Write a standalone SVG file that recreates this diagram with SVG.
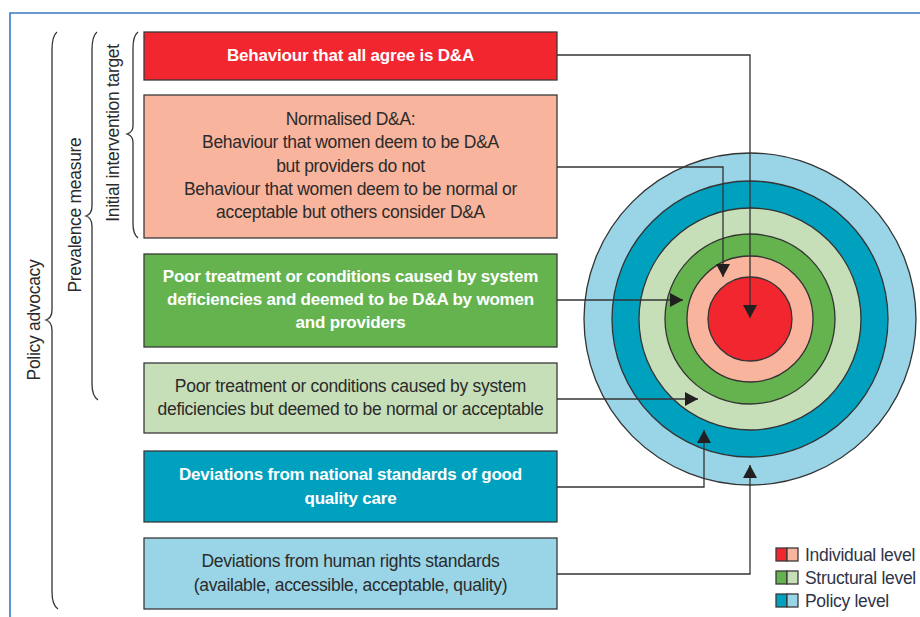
<svg xmlns="http://www.w3.org/2000/svg" width="920" height="617" viewBox="0 0 920 617">
  <style>
    .box { stroke: #3a3a3a; stroke-width: 1.3; }
    .t { font-family: "Liberation Sans", Arial, sans-serif; font-size: 17.5px; text-anchor: middle; fill: #2b2b2b; letter-spacing: -0.3px; }
    .tb { font-family: "Liberation Sans", Arial, sans-serif; font-size: 17px; font-weight: bold; text-anchor: middle; fill: #ffffff; letter-spacing: -0.2px; }
    .side { font-family: "Liberation Sans", Arial, sans-serif; font-size: 17.5px; text-anchor: middle; fill: #2b2b2b; letter-spacing: -0.3px; }
    .brace { fill: none; stroke: #333333; stroke-width: 1.3; }
    .conn { fill: none; stroke: #333333; stroke-width: 1.3; }
    .ring { stroke: #333333; stroke-width: 1.3; }
    .leg { font-family: "Liberation Sans", Arial, sans-serif; font-size: 17.5px; fill: #2e3447; letter-spacing: -0.3px; }
  </style>
  <defs>
    <marker id="arrow" markerUnits="userSpaceOnUse" markerWidth="14" markerHeight="14" refX="13" refY="7" orient="auto">
      <path d="M0,0 L13,7 L0,14 z" fill="#231f20"/>
    </marker>
  </defs>

  <rect width="920" height="617" fill="#ffffff"/>
  <!-- frame -->
  <path d="M10,617 V13 H920" fill="none" stroke="#3a78c0" stroke-width="1.6"/>

  <!-- side braces and labels -->
  <g id="policy-advocacy">
    <path class="brace" d="M57,32 Q52,36 52,50 V310 Q52,318 46,320 Q52,322 52,330 V592 Q52,605 58,609"/>
    <text class="side" transform="translate(40,320) rotate(-90)">Policy advocacy</text>
  </g>
  <g id="prevalence-measure">
    <path class="brace" d="M97,32 Q92,36 92,50 V206 Q92,214 86,216 Q92,218 92,226 V384 Q92,396 98,400"/>
    <text class="side" transform="translate(81,215) rotate(-90)">Prevalence measure</text>
  </g>
  <g id="initial-intervention-target">
    <path class="brace" d="M138,32 Q133,36 133,48 V126 Q133,132 127,134 Q133,136 133,142 V224 Q133,234 138,238"/>
    <text class="side" transform="translate(119,133) rotate(-90)">Initial intervention target</text>
  </g>

  <!-- concentric levels -->
  <g id="target-rings">
    <circle class="ring" cx="750" cy="319" r="166" fill="#99d5e6"/>
    <circle class="ring" cx="750" cy="319" r="138" fill="#00a0bf"/>
    <circle class="ring" cx="750" cy="319" r="111" fill="#c7dfb8"/>
    <circle class="ring" cx="750" cy="319" r="85" fill="#65b34f"/>
    <circle class="ring" cx="750" cy="319" r="63" fill="#f9b49d"/>
    <circle class="ring" cx="750" cy="319" r="42" fill="#f2262f"/>
  </g>

  <!-- category boxes -->
  <g id="box-all-agree">
    <rect class="box" x="144" y="32" width="413" height="48" fill="#f2262f"/>
    <text class="tb" x="350.5" y="61">Behaviour that all agree is D&amp;A</text>
  </g>
  <g id="box-normalised">
    <rect class="box" x="144" y="95" width="413" height="143" fill="#f9b49d"/>
    <text class="t" x="350.5" y="125">Normalised D&amp;A:</text>
    <text class="t" x="350.5" y="148">Behaviour that women deem to be D&amp;A</text>
    <text class="t" x="350.5" y="172">but providers do not</text>
    <text class="t" x="350.5" y="195">Behaviour that women deem to be normal or</text>
    <text class="t" x="350.5" y="218">acceptable but others consider D&amp;A</text>
  </g>
  <g id="box-system-da">
    <rect class="box" x="144" y="254" width="413" height="93" fill="#65b34f"/>
    <text class="tb" x="350.5" y="282">Poor treatment or conditions caused by system</text>
    <text class="tb" x="350.5" y="305">deficiencies and deemed to be D&amp;A by women</text>
    <text class="tb" x="350.5" y="328">and providers</text>
  </g>
  <g id="box-system-normal">
    <rect class="box" x="144" y="363" width="413" height="70" fill="#c7dfb8"/>
    <text class="t" x="350.5" y="392">Poor treatment or conditions caused by system</text>
    <text class="t" x="350.5" y="415">deficiencies but deemed to be normal or acceptable</text>
  </g>
  <g id="box-national-standards">
    <rect class="box" x="144" y="451" width="413" height="71" fill="#00a0bf"/>
    <text class="tb" x="350.5" y="480">Deviations from national standards of good</text>
    <text class="tb" x="350.5" y="504">quality care</text>
  </g>
  <g id="box-human-rights">
    <rect class="box" x="144" y="538" width="413" height="71" fill="#99d5e6"/>
    <text class="t" x="350.5" y="567">Deviations from human rights standards</text>
    <text class="t" x="350.5" y="591">(available, accessible, acceptable, quality)</text>
  </g>

  <!-- connectors from boxes into the rings -->
  <g id="connectors">
    <path class="conn" d="M557,55 H750 V318" marker-end="url(#arrow)"/>
    <path class="conn" d="M557,167 H723 V277" marker-end="url(#arrow)"/>
    <path class="conn" d="M557,300 H683" marker-end="url(#arrow)"/>
    <path class="conn" d="M557,399 H698" marker-end="url(#arrow)"/>
    <path class="conn" d="M557,487 H704 V430" marker-end="url(#arrow)"/>
    <path class="conn" d="M557,574 H750 V465" marker-end="url(#arrow)"/>
  </g>

  <!-- legend -->
  <g id="legend">
    <rect class="box" x="776" y="548" width="11" height="13" fill="#f2262f"/>
    <rect class="box" x="787" y="548" width="11" height="13" fill="#f9b49d"/>
    <text class="leg" x="805" y="561">Individual level</text>
    <rect class="box" x="776" y="571" width="11" height="13" fill="#65b34f"/>
    <rect class="box" x="787" y="571" width="11" height="13" fill="#c7dfb8"/>
    <text class="leg" x="805" y="584">Structural level</text>
    <rect class="box" x="776" y="594" width="11" height="13" fill="#00a0bf"/>
    <rect class="box" x="787" y="594" width="11" height="13" fill="#99d5e6"/>
    <text class="leg" x="805" y="607">Policy level</text>
  </g>
</svg>
